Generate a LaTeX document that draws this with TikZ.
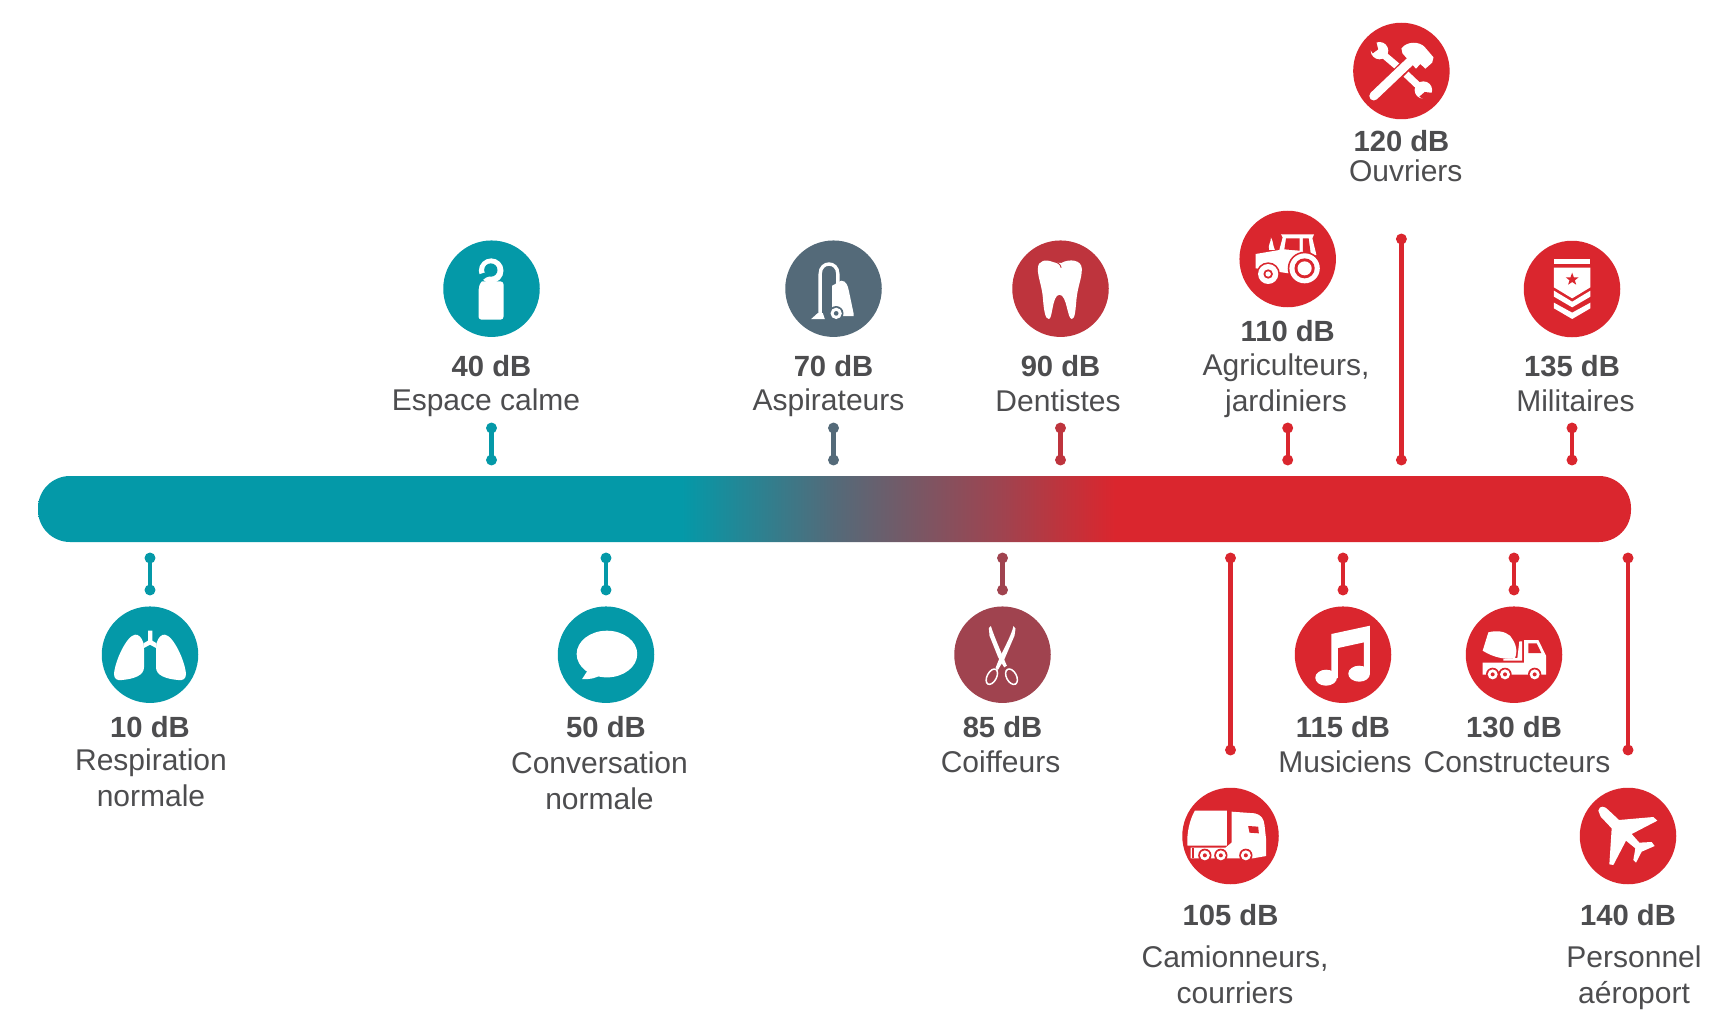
\documentclass[tikz,border=0pt]{standalone}
\usepackage{fontspec}
\setmainfont{Liberation Sans}
\usetikzlibrary{arrows.meta}
\definecolor{cteal}{HTML}{0499A8}
\definecolor{cslate}{HTML}{546A79}
\definecolor{ctooth}{HTML}{BE343D}
\definecolor{cscis}{HTML}{A0434F}
\definecolor{cred}{HTML}{DA262E}
\definecolor{ctxt}{HTML}{4D4D4F}
\pgfdeclarehorizontalshading{barshade}{100bp}{color(0bp)=(cteal); color(45.2bp)=(cteal); color(50bp)=(cslate); color(55.3bp)=(cscis); color(57.1bp)=(ctooth); color(58.8bp)=(cred); color(100bp)=(cred)}
\tikzset{
  dbcirc/.style={circle,minimum size=96.5pt,inner sep=0pt,fill=#1},
  dbval/.style={anchor=base,inner sep=0pt,font=\fontsize{29.2}{31}\selectfont\bfseries,text=ctxt},
  dbtxt/.style={anchor=base,inner sep=0pt,font=\fontsize{30}{32}\selectfont,text=ctxt},
  ticker/.style={line width=4.4pt,draw=#1,{Circle[length=10.6pt,width=10.6pt]}-{Circle[length=10.6pt,width=10.6pt]},shorten >=-5.3pt,shorten <=-5.3pt},
  zm/.style={x=.33333pt,y=-.33333pt},
  zmw/.style={x=.3374pt,y=-.33333pt},
  wf/.style={fill=white,draw=none}
}
\newcommand{\tickmark}[5]{%
  \coordinate (#1a) at (#2,#3);
  \coordinate (#1b) at (#2,#4);
  \draw[ticker=#5] (#1a) -- (#1b);}
\begin{document}
\begin{tikzpicture}[x=1pt,y=-1pt]
\useasboundingbox (0,0) rectangle (1729,1019);
\fill[white] (0,0) rectangle (1729,1019);

\node[shade,shading=barshade,rounded corners=32pt,minimum width=1593pt,minimum height=66pt,inner sep=0pt] (bar) at (834.5,509) {};

% ticks
\tickmark{t10}{150}{558}{590}{cteal}
\tickmark{t50}{606}{558}{590}{cteal}
\tickmark{t85}{1002.5}{558}{590}{cscis}
\tickmark{t105}{1230.5}{558}{750}{cred}
\tickmark{t115}{1343}{558}{590}{cred}
\tickmark{t130}{1514}{558}{590}{cred}
\tickmark{t140}{1628}{558}{750}{cred}
\tickmark{t40}{491.5}{428}{460}{cteal}
\tickmark{t70}{833.5}{428}{460}{cslate}
\tickmark{t90}{1060.5}{428}{460}{ctooth}
\tickmark{t110}{1287.7}{428}{460}{cred}
\tickmark{t120}{1401.4}{239}{460}{cred}
\tickmark{t135}{1572}{428}{460}{cred}

% circles
\node[dbcirc=cteal] (c10) at (150,654.7) {};
\node[dbcirc=cteal] (c50) at (606,654.7) {};
\node[dbcirc=cscis] (c85) at (1002.5,654.7) {};
\node[dbcirc=cred] (c105) at (1230.5,836) {};
\node[dbcirc=cred] (c115) at (1343,654.7) {};
\node[dbcirc=cred] (c130) at (1514,654.7) {};
\node[dbcirc=cred] (c140) at (1628,836) {};
\node[dbcirc=cteal] (c40) at (491.5,288.7) {};
\node[dbcirc=cslate] (c70) at (833.5,288.7) {};
\node[dbcirc=ctooth] (c90) at (1060.5,288.7) {};
\node[dbcirc=cred] (c110) at (1287.7,259) {};
\node[dbcirc=cred] (c120) at (1401.4,71) {};
\node[dbcirc=cred] (c135) at (1572,289) {};

% labels
\node[dbval] (v10) at (150,737.5) {10 dB};
\node[dbtxt] (l10a) at (151,770) {Respiration};
\node[dbtxt] (l10b) at (151,806) {normale};
\node[dbval] (v50) at (606,737.5) {50 dB};
\node[dbtxt] (l50a) at (599.5,773) {Conversation};
\node[dbtxt] (l50b) at (599.5,809) {normale};
\node[dbval] (v85) at (1002.5,737.5) {85 dB};
\node[dbtxt] (l85) at (1000.5,772) {Coiffeurs};
\node[dbval] (v105) at (1230.5,925.5) {105 dB};
\node[dbtxt] (l105a) at (1235,967) {Camionneurs,};
\node[dbtxt] (l105b) at (1235,1003) {courriers};
\node[dbval] (v115) at (1343,737.5) {115 dB};
\node[dbtxt] (l115) at (1345,772) {Musiciens};
\node[dbval] (v130) at (1514,737.5) {130 dB};
\node[dbtxt] (l130) at (1517,772) {Constructeurs};
\node[dbval] (v140) at (1628,925.5) {140 dB};
\node[dbtxt] (l140a) at (1634,967) {Personnel};
\node[dbtxt] (l140b) at (1634,1003) {aéroport};
\node[dbval] (v40) at (491.5,376) {40 dB};
\node[dbtxt] (l40) at (486,410.5) {Espace calme};
\node[dbval] (v70) at (833.5,376) {70 dB};
\node[dbtxt] (l70) at (828.5,410.5) {Aspirateurs};
\node[dbval] (v90) at (1060.5,376) {90 dB};
\node[dbtxt] (l90) at (1058,411) {Dentistes};
\node[dbval] (v110) at (1287.7,341) {110 dB};
\node[dbtxt] (l110a) at (1286,375) {Agriculteurs,};
\node[dbtxt] (l110b) at (1286,411) {jardiniers};
\node[dbval] (v120) at (1401.4,151.5) {120 dB};
\node[dbtxt] (l120) at (1405.8,181.5) {Ouvriers};
\node[dbval] (v135) at (1572,376) {135 dB};
\node[dbtxt] (l135) at (1575.5,411) {Militaires};

% lungs
\begin{scope}[shift={(30,470.7)},zm]
  \fill[wf] (340,516) .. controls (335,500) and (325,490) .. (315,492) .. controls (290,495) and (255,570) .. (252,610) .. controls (252,625) and (262,630) .. (275,628) .. controls (310,625) and (342,615) .. (342,590) -- (342,535) -- cycle;
  \fill[wf] (380,516) .. controls (385,500) and (395,490) .. (405,492) .. controls (430,495) and (465,570) .. (468,610) .. controls (468,625) and (458,630) .. (445,628) .. controls (410,625) and (378,615) .. (378,590) -- (378,535) -- cycle;
  \fill[wf] (354,480) -- (367,480) -- (367,510) -- (380,518) -- (380,533) -- (360,522) -- (340,533) -- (340,518) -- (354,510) -- cycle;
\end{scope}
% speech bubble
\begin{scope}[shift={(0,540.7)},x=.4591pt,y=-.33333pt]
  \fill[wf] (1322,340) ellipse (66 and 70);
  \fill[wf] (1282,385) -- (1268,415) .. controls (1285,417) and (1298,412) .. (1310,402) -- cycle;
\end{scope}
% door hanger
\begin{scope}[shift={(439.5,240.7)},zm]
  \fill[wf] (155,90) circle (37);
  \fill[wf,rounded corners=3pt] (117,122) rectangle (192,237);
  \fill[cteal] (154,88) circle (20);
  \fill[cteal] (105,106) -- (134,96) -- (152,106) .. controls (134,110) and (120,122) .. (117,145) -- (105,145) -- cycle;
\end{scope}
% vacuum
\begin{scope}[shift={(779.5,235.7)},zm]
  \fill[wf] (158,150) -- (185,135) .. controls (200,135) and (205,150) .. (208,165) -- (222,232) -- (222,241) -- (158,241) -- cycle;
  \draw[white,line width=3.4pt] (122,238) -- (122,115) .. controls (122,75) and (175,75) .. (175,115) -- (175,145);
  \fill[wf] (95,250) -- (115,232) -- (130,232) -- (136,250) -- cycle;
  \fill[cslate] (170,233) circle (22);
  \fill[wf] (170,233) circle (17);
  \fill[cslate] (170,233) circle (7);
\end{scope}
% tooth
\begin{scope}[shift={(1004.5,235.7)},zm]
  \fill[wf] (148,80) .. controls (125,70) and (100,72) .. (100,100) .. controls (100,125) and (112,150) .. (115,185) .. controls (118,225) and (122,250) .. (133,250) .. controls (145,250) and (142,178) .. (165,177) .. controls (188,178) and (188,250) .. (202,250) .. controls (212,250) and (213,220) .. (216,190) .. controls (220,150) and (232,130) .. (232,100) .. controls (232,72) and (195,68) .. (170,82) -- cycle;
  \draw[ctooth,line width=.9pt] (146,76) .. controls (158,80) and (168,85) .. (170,96);
\end{scope}
% scissors
\begin{scope}[shift={(949.5,600.7)},zm]
  \fill[wf] (118,82) -- (124,76) .. controls (135,110) and (155,155) .. (172,195) -- (164,200) -- (146,170) -- (120,105) -- cycle;
  \fill[wf] (192,76) -- (198,84) -- (195,105) -- (165,175) -- (145,208) -- (138,202) -- (150,172) .. controls (165,140) and (185,105) .. (192,76) -- cycle;
  \draw[white,line width=1.5pt] (127,228) ellipse [x radius=14,y radius=25,rotate=-28];
  \draw[white,line width=1.5pt] (186,228) ellipse [x radius=15,y radius=25,rotate=28];
\end{scope}
% truck
\begin{scope}[shift={(1175.5,780)},zm]
  \fill[wf] (58,92) -- (154,92) -- (154,197) -- (36,197) .. controls (33,160) and (42,120) .. (58,92) -- cycle;
  \fill[wf] (168,95) -- (238,100) .. controls (258,104) and (265,118) .. (267,135) -- (272,180) -- (272,228) -- (232,235) -- (160,235) -- (45,235) -- (45,203) -- (150,203) -- (168,188) -- cycle;
  \fill[cred] (218,138) -- (248,140) -- (250,160) -- (222,158) -- cycle;
  \fill[cred] (50,203) -- (56,203) -- (56,235) -- (50,235) -- cycle;
  \foreach \wx in {88,136,211}{
    \fill[cred] (\wx,226) circle (20);
    \fill[wf] (\wx,226) circle (15);
    \fill[cred] (\wx,226) circle (6);}
\end{scope}
% music
\begin{scope}[shift={(920,540.7)},x=.516pt,y=-.33333pt]
  \fill[wf] (797,280) -- (872,255) -- (872,400) -- (860,400) -- (860,305) -- (810,322) -- (810,412) -- (797,412) -- cycle;
  \fill[wf] (787,411) ellipse (21 and 24);
  \fill[wf] (851,399) ellipse (21 and 24);
\end{scope}
% mixer
\begin{scope}[shift={(1460,600.7)},zm]
  \fill[wf] (85,95) .. controls (110,88) and (135,92) .. (150,105) .. controls (165,125) and (175,145) .. (165,172) .. controls (135,178) and (100,170) .. (68,150) -- cycle;
  \fill[wf] (178,122) -- (186,122) -- (186,180) -- (130,180) -- (130,174) -- (172,172) -- cycle;
  \fill[wf] (192,118) -- (235,118) -- (258,165) -- (258,222) -- (68,222) -- (68,186) -- (192,186) -- cycle;
  \fill[cred] (205,128) -- (230,128) -- (244,157) -- (205,157) -- cycle;
  \foreach \wx in {98,135,224}{
    \fill[cred] (\wx,221) circle (20);
    \fill[wf] (\wx,221) circle (15);
    \fill[cred] (\wx,221) circle (6);}
\end{scope}
% plane
\begin{scope}[shift={(1570,470)},zm]
  \fill[wf] (85,1022) .. controls (88,1005) and (105,1008) .. (115,1020) -- (147,1050) -- (250,1041) -- (262,1052) -- (185,1092) -- (208,1118) -- (245,1116) -- (254,1128) -- (215,1145) -- (198,1178) -- (190,1170) -- (196,1135) -- (168,1112) -- (130,1185) -- (118,1183) -- (125,1075) -- (92,1040) -- cycle;
\end{scope}
% tools, tractor, badge
\begin{scope}[shift={(1200,0)},zmw]
  % wrench
  \draw[white,line width=7pt] (545,165) -- (595,208);
  \draw[white,line width=7pt] (610,222) -- (655,265);
  \fill[wf] (532,152) circle (26);
  \fill[wf] (662,270) circle (26);
  \fill[cred] (528,148) -- (520,115) -- (495,135) -- (512,160) -- cycle;
  \fill[cred] (666,276) -- (700,280) -- (680,308) -- (650,290) -- cycle;
  % hammer
  \draw[cred,line width=12pt] (575,232) -- (622,185);
  \draw[white,line width=9pt,line cap=round] (515,288) -- (622,185);
  \fill[wf] (597,145) .. controls (615,122) and (650,125) .. (665,140) -- (692,172) -- (688,188) -- (668,206) -- (653,192) -- (640,206) -- (600,160) -- cycle;
  % tractor
  \fill[wf] (165,762) -- (235,750) -- (245,712) -- (240,703) -- (338,703) -- (333,715) -- (345,765) -- (290,775) -- (262,820) -- (165,805) -- cycle;
  \fill[cred] (255,715) -- (295,715) -- (295,752) -- (250,748) -- cycle;
  \fill[cred] (305,715) -- (322,715) -- (328,760) -- (305,755) -- cycle;
  \fill[wf] (210,712) .. controls (218,725) and (215,735) .. (222,750) -- (205,750) .. controls (200,735) and (212,725) .. (210,712) -- cycle;
  \fill[cred] (310,805) circle (50);
  \fill[wf] (310,805) circle (45);
  \fill[cred] (310,805) circle (30);
  \fill[wf] (310,805) circle (21);
  \fill[cred] (202,822) circle (35);
  \fill[wf] (202,822) circle (30);
  \fill[cred] (202,822) circle (14);
  \fill[wf] (202,822) circle (8);
  % badge
  \fill[wf] (1049,778) rectangle (1157,792);
  \fill[wf] (1049,803) -- (1157,803) -- (1157,862) -- (1103,895) -- (1049,862) -- cycle;
  \fill[wf] (1049,872) -- (1103,905) -- (1157,872) -- (1157,890) -- (1103,922) -- (1049,890) -- cycle;
  \fill[wf] (1049,908) -- (1103,938) -- (1157,908) -- (1157,925) -- (1103,957) -- (1049,925) -- cycle;
  \fill[cred] (1103,818) -- (1108,832) -- (1122,832) -- (1111,841) -- (1115,854) -- (1103,846) -- (1091,854) -- (1095,841) -- (1084,832) -- (1098,832) -- cycle;
\end{scope}
\end{tikzpicture}
\end{document}
